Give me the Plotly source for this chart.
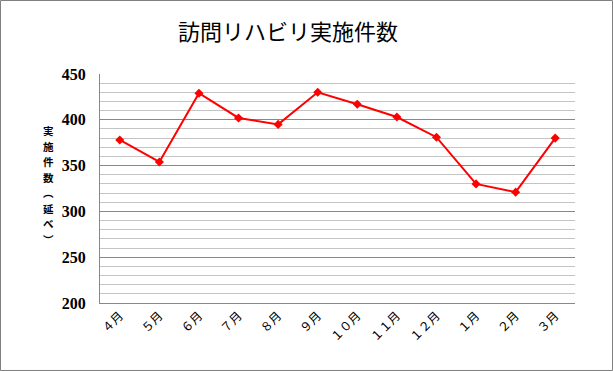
import plotly.graph_objects as go

months = ["４月", "５月", "６月", "７月", "８月", "９月", "１０月", "１１月", "１２月", "１月", "２月", "３月"]
counts = [378, 354, 429, 402, 395, 430, 417, 403, 381, 330, 321, 380]
y_ticks = [200, 250, 300, 350, 400, 450]
title_text = "訪問リハビリ実施件数"
y_title_chars = ["実", "施", "件", "数", "︵", "延", "べ", "︶"]

W, H = 613, 371
L, R, T, B = 100, 38, 74, 68
pw, ph = W - L - R, H - T - B


def px_x(x):
    return (x - L) / pw


def px_y(y):
    return 1 - (y - T) / ph


annotations = [
    dict(text=title_text, xref="paper", yref="paper",
         x=px_x(288), y=px_y(30), xanchor="center", yanchor="middle",
         showarrow=False, font=dict(family="Noto Sans CJK JP", size=22, color="black")),
]
pitch = 15.5
n = len(y_title_chars)
for i, ch in enumerate(y_title_chars):
    annotations.append(dict(
        text=ch, xref="paper", yref="paper",
        x=px_x(48), y=px_y(185 + (i - (n - 1) / 2) * pitch), xanchor="center", yanchor="middle",
        borderpad=0, showarrow=False,
        font=dict(family="Noto Sans CJK JP", size=10.5, color="black", weight="bold")))

fig = go.Figure()
fig.add_trace(go.Scatter(
    x=months, y=counts, mode="lines+markers",
    line=dict(color="#ff0000", width=2),
    marker=dict(symbol="diamond", size=7, color="#ff0000"),
    showlegend=False,
))

fig.update_layout(
    width=W, height=H,
    margin=dict(l=L, r=R, t=T, b=B, autoexpand=False),
    paper_bgcolor="white", plot_bgcolor="white",
    xaxis=dict(
        type="category", range=[-0.5, len(months) - 0.5],
        showgrid=False, showline=True, linecolor="#888888", linewidth=1,
        tickangle=-45, ticks="",
        tickfont=dict(family="Noto Sans CJK JP", size=12, color="black"),
    ),
    yaxis=dict(
        range=[200, 450], tickvals=y_ticks, showgrid=True, gridcolor="#888888", gridwidth=1,
        minor=dict(dtick=10, showgrid=True, gridcolor="#c4c4c4", gridwidth=1),
        showline=True, linecolor="#888888", linewidth=1, ticks="", ticklabelstandoff=10,
        tickfont=dict(family="Liberation Serif", size=16, color="black", weight="bold"),
        zeroline=False,
    ),
    annotations=annotations,
    shapes=[dict(type="rect", xref="paper", yref="paper",
                 x0=px_x(0.5), x1=px_x(W - 0.5),
                 y0=px_y(H - 0.5), y1=px_y(0.5),
                 line=dict(color="#808080", width=1))],
)

fig.write_html("out.html", config={"displayModeBar": False},
               post_script="document.body.style.margin='0';document.body.style.overflow='hidden';")
